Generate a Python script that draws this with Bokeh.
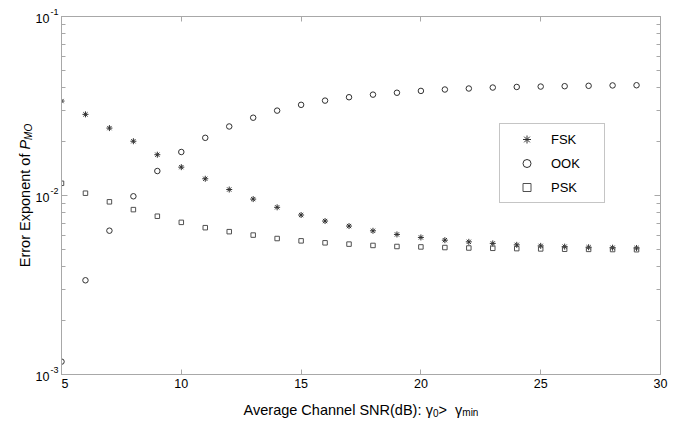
import math
from bokeh.plotting import figure
from bokeh.layouts import row, column
from bokeh.models import (Plot, Range1d, FixedTicker, LogAxis, LinearAxis, Label,
                          Legend, LegendItem)
from bokeh.embed import file_html
from bokeh.resources import INLINE

# ---------------- data ----------------
snr = [5, 6, 7, 8, 9, 10, 11, 12, 13, 14, 15, 16, 17, 18, 19, 20, 21, 22, 23, 24, 25, 26, 27, 28, 29]
fsk = [0.0337, 0.0284, 0.0238, 0.0201, 0.0169, 0.0144, 0.0124, 0.0108, 0.00955, 0.00859,
       0.00778, 0.00720, 0.00675, 0.00635, 0.00606, 0.00583, 0.00563, 0.00551, 0.00540,
       0.00530, 0.00523, 0.00518, 0.00514, 0.00511, 0.00509]
ook = [0.00118, 0.00336, 0.00636, 0.0099, 0.0137, 0.0175, 0.0210, 0.0243, 0.0272, 0.0298,
       0.0321, 0.0339, 0.0354, 0.0366, 0.0375, 0.0384, 0.0391, 0.0396, 0.0401, 0.0404,
       0.0406, 0.0408, 0.0410, 0.0412, 0.0413]
psk = [0.0117, 0.0103, 0.00922, 0.00834, 0.00766, 0.00708, 0.00661, 0.00628, 0.00601, 0.00575,
       0.00558, 0.00544, 0.00535, 0.00526, 0.00519, 0.00516, 0.00512, 0.00509, 0.00507,
       0.00505, 0.00503, 0.00501, 0.00500, 0.00499, 0.00498]
series_names = ["FSK", "OOK", "PSK"]
x_ticks = [5, 10, 15, 20, 25, 30]
y_exponents = [-3, -2, -1]
x_lo, x_hi = 5, 30
y_lo, y_hi = 1e-3, 1e-1

FONT = "Liberation Sans"
FRAME_COL = "#a8a8a8"
MARK_COL = "#303030"
TICK_FS = 12.5
TITLE_FS = 14.5
SUB_FS = 10

# Arial advance widths (1/1000 em) for composing rich labels
AW = {' ': 278, '(': 333, ')': 333, ':': 278, '>': 584, '-': 333, 'γ': 500,
      'A': 667, 'B': 667, 'C': 722, 'E': 667, 'M': 833, 'N': 722, 'O': 778, 'P': 667,
      'R': 722, 'S': 667, 'a': 556, 'd': 556, 'e': 556, 'f': 278, 'g': 556, 'h': 556,
      'i': 222, 'l': 222, 'm': 833, 'n': 556, 'o': 556, 'p': 556, 'r': 333, 't': 278,
      'v': 500, 'x': 500}


def tw(s, size):
    return sum(AW.get(c, 556) for c in s) / 1000.0 * size


# layout geometry (pixels)
LEFT_W = 61            # width of the left text strip
FT, FW, FH = 16, 599, 358
RB = 12
MAIN_H = 394
BOT_H = 26
TOTAL_W = LEFT_W + FW + RB

CAN_UNALIGN = "frame_align" in Plot.properties()
FA = {"frame_align": False} if CAN_UNALIGN else {}
LF_BOTTOM = MAIN_H if CAN_UNALIGN else FT + FH

xr = Range1d(x_lo, x_hi)
yr = Range1d(y_lo, y_hi)


def text_fig(w, h):
    f = figure(width=w, height=h, output_backend="svg", toolbar_location=None,
               x_axis_location=None, y_axis_location=None,
               x_range=Range1d(0, 1), y_range=Range1d(0, 1),
               min_border=0, outline_line_color=None, **FA)
    f.grid.visible = False
    return f


def lab(f, x, y, text, size, **kw):
    f.add_layout(Label(x=x, y=y, x_units="screen", y_units="screen", text=text,
                       text_font=FONT, text_font_size="%gpx" % size, text_color="black", **kw))


# ---------------- main plot ----------------
p = figure(width=FW + RB, height=MAIN_H, output_backend="svg", toolbar_location=None,
           y_axis_type="log", x_range=xr, y_range=yr,
           min_border_left=0, min_border_right=RB, min_border_top=FT,
           min_border_bottom=MAIN_H - FT - FH, **FA)
p.grid.visible = False
p.outline_line_color = FRAME_COL
p.outline_line_width = 1

y_major = [10.0 ** e for e in y_exponents]
y_minor = [m * 10.0 ** e for e in y_exponents[:-1] for m in range(2, 10)]
yt = FixedTicker(ticks=y_major, minor_ticks=y_minor)
xt = FixedTicker(ticks=x_ticks, minor_ticks=[])


def style_axis(ax, labels):
    ax.axis_line_color = FRAME_COL
    ax.major_tick_line_color = FRAME_COL
    ax.minor_tick_line_color = FRAME_COL
    ax.major_tick_out = 0
    ax.minor_tick_out = 0
    ax.major_tick_in = 6
    ax.minor_tick_in = 4
    if not labels:
        ax.major_label_text_font_size = "0px"
        ax.major_label_standoff = 0


xa = p.xaxis[0]
xa.ticker = xt
style_axis(xa, True)
xa.major_tick_in = 5
xa.major_label_text_font = FONT
xa.major_label_text_font_size = "%gpx" % TICK_FS
xa.major_label_text_color = "black"
xa.major_label_standoff = 4

ya = p.yaxis[0]
ya.ticker = yt
style_axis(ya, False)
ya.major_label_overrides = {v: "" for v in y_major}

ra = LogAxis(ticker=yt)
style_axis(ra, False)
ra.major_label_overrides = {v: "" for v in y_major}
p.add_layout(ra, "right")
ta = LinearAxis(ticker=xt)
style_axis(ta, False)
ta.major_tick_in = 5
ta.major_label_overrides = {v: "" for v in x_ticks}
p.add_layout(ta, "above")

r_fsk = p.scatter(snr, fsk, marker="asterisk", size=6, line_color=MARK_COL, line_width=1)
r_ook = p.scatter(snr, ook, marker="circle", size=5.5, line_color=MARK_COL, fill_color=None, line_width=1)
r_psk = p.scatter(snr, psk, marker="square", size=4.5, line_color="#505050", fill_color=None, line_width=1)

legend = Legend(items=[LegendItem(label=series_names[0], renderers=[r_fsk]),
                       LegendItem(label=series_names[1], renderers=[r_ook]),
                       LegendItem(label=series_names[2], renderers=[r_psk])],
                location=(438, 171), orientation="vertical",
                border_line_color="#8c8c8c", border_line_width=1,
                background_fill_color="white", background_fill_alpha=1,
                padding=5, spacing=4, margin=0,
                glyph_width=43, glyph_height=20, label_standoff=3,
                label_width=48, label_height=20,
                label_text_font=FONT, label_text_font_size="13px",
                label_text_color="black")
p.add_layout(legend, "center")

# ---------------- left strip: y tick labels + y title ----------------
lf = text_fig(LEFT_W, MAIN_H)
for e, v in zip(y_exponents, y_major):
    frac = (math.log10(v) - math.log10(y_lo)) / (math.log10(y_hi) - math.log10(y_lo))
    tick_page_y = FT + (1 - frac) * FH
    lab(lf, LEFT_W - 12, LF_BOTTOM - (tick_page_y + 1.5), "10", TICK_FS,
        text_align="right", text_baseline="middle")
    lab(lf, LEFT_W - 3, LF_BOTTOM - (tick_page_y - 4.5), "-%d" % abs(e), 9,
        text_align="right", text_baseline="middle")

y_pieces = [("Error Exponent of ", TITLE_FS, 0, "normal"), ("P", TITLE_FS, 0, "italic"),
            ("MO", SUB_FS, 3.5, "italic")]
total = sum(tw(s, sz) for s, sz, _, _ in y_pieces)
ypos = (LF_BOTTOM - (FT + FH / 2.0)) - total / 2.0
for s, sz, dx, st in y_pieces:
    lab(lf, 24 + dx, ypos, s, sz, angle=math.pi / 2, text_align="left",
        text_baseline="alphabetic", text_font_style=st)
    ypos += tw(s, sz)

# ---------------- bottom strip: x title ----------------
bf = text_fig(TOTAL_W, BOT_H)
x_pieces = [("Average Channel SNR(dB): ", TITLE_FS, 0), ("γ", TITLE_FS, 0), ("0", SUB_FS, -3),
            (" > ", TITLE_FS, 0), ("γ", TITLE_FS, 0), ("min", SUB_FS, -3)]
total = sum(tw(s, sz) for s, sz, _ in x_pieces)
xpos = LEFT_W + FW / 2.0 - total / 2.0
base = (MAIN_H + BOT_H) - 409
for s, sz, dy in x_pieces:
    lab(bf, xpos, base + dy, s, sz, text_align="left", text_baseline="alphabetic")
    xpos += tw(s, sz)

layout = column(row(lf, p, spacing=0), bf, spacing=0)
open("out.html", "w").write(file_html(layout, INLINE))
